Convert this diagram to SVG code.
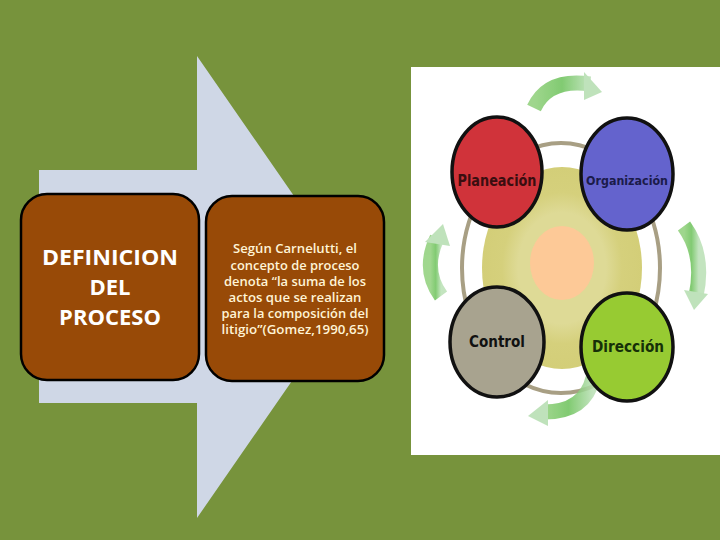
<svg xmlns="http://www.w3.org/2000/svg" width="720" height="540" viewBox="0 0 720 540">
<defs>
<style>
.box{fill:#984A07;stroke:#000;stroke-width:2.5}
.ttl{font-family:"Open Sans","Liberation Sans",sans-serif;font-weight:bold;font-size:22px;fill:#FFFFFF;text-anchor:middle}
.body{font-family:"Open Sans","Liberation Sans",sans-serif;font-weight:600;font-size:12.5px;fill:#FFF4D6;text-anchor:middle}
.circ{stroke:#111;stroke-width:3.5}
.lbl{font-family:"DejaVu Sans","Liberation Sans",sans-serif;font-weight:bold;text-anchor:middle}
.garc{fill:none;stroke-width:15;stroke-linecap:butt}
</style>
<linearGradient id="g1" x1="0" y1="0" x2="1" y2="0">
<stop offset="0" stop-color="#8FD07A"/><stop offset="0.5" stop-color="#6CC25A"/><stop offset="1" stop-color="#B9E0B4"/>
</linearGradient>
<radialGradient id="halo" cx="0.5" cy="0.5" r="0.5">
<stop offset="0.55" stop-color="#DEDA96"/><stop offset="0.75" stop-color="#D5D07C"/><stop offset="1" stop-color="#D3CE78"/>
</radialGradient>
</defs>
<rect x="0" y="0" width="720" height="540" fill="#77933C"/>

<g id="arrow">
<polygon points="39,170 197,170 197,56 357,287 197,518 197,403 39,403" fill="#CFD7E6"/>
</g>

<g id="node-definicion">
<rect class="box" x="21" y="194" width="178" height="186" rx="26" ry="26"/>
<text class="ttl" x="110" y="265" textLength="136" lengthAdjust="spacingAndGlyphs">DEFINICION</text>
<text class="ttl" x="110" y="295">DEL</text>
<text class="ttl" x="110" y="325">PROCESO</text>
</g>

<g id="node-cita">
<rect class="box" x="206" y="196" width="178" height="185" rx="26" ry="26"/>
<text class="body" x="295" y="253" textLength="124" lengthAdjust="spacingAndGlyphs">Según Carnelutti, el</text>
<text class="body" x="295" y="270" textLength="129" lengthAdjust="spacingAndGlyphs">concepto de proceso</text>
<text class="body" x="295" y="286" textLength="142" lengthAdjust="spacingAndGlyphs">denota “la suma de los</text>
<text class="body" x="295" y="302" textLength="133" lengthAdjust="spacingAndGlyphs">actos que se realizan</text>
<text class="body" x="295" y="318" textLength="147" lengthAdjust="spacingAndGlyphs">para la composición del</text>
<text class="body" x="295" y="334" textLength="147" lengthAdjust="spacingAndGlyphs">litigio”(Gomez,1990,65)</text>
</g>

<g id="cycle-image">
<rect x="411" y="67" width="309" height="388" fill="#FFFFFF"/>
<ellipse cx="561" cy="268" rx="99" ry="125" fill="none" stroke="#A89F84" stroke-width="4"/>
<ellipse cx="562" cy="268" rx="80" ry="101" fill="url(#halo)"/>
<ellipse cx="562" cy="263" rx="32" ry="37" fill="#FDC997"/>

<g id="connectors" opacity="0.85">
<path class="garc" d="M534,108 Q548,78 590,84" stroke="url(#g1)"/>
<polygon points="584,72 602,92 584,100" fill="#B5DEB0"/>
<path class="garc" d="M684,226 Q705,255 696,296" stroke="url(#g1)"/>
<polygon points="684,290 708,294 694,310" fill="#B5DEB0"/>
<path class="garc" d="M593,378 Q585,412 544,412" stroke="url(#g1)"/>
<polygon points="548,400 528,416 548,426" fill="#B5DEB0"/>
<path class="garc" d="M441,296 Q422,270 437,238" stroke="url(#g1)"/>
<polygon points="425,242 443,224 450,246" fill="#B5DEB0"/>
</g>

<g id="node-planeacion">
<ellipse class="circ" cx="497" cy="172" rx="45" ry="55" fill="#D0333A"/>
<text class="lbl" x="497" y="186" font-size="15" fill="#3A0E10" textLength="79" lengthAdjust="spacingAndGlyphs">Planeación</text>
</g>
<g id="node-organizacion">
<ellipse class="circ" cx="627" cy="174" rx="46" ry="56" fill="#6463CD"/>
<text class="lbl" x="627" y="185" font-size="12.5" fill="#1B1B4A" textLength="82" lengthAdjust="spacingAndGlyphs">Organización</text>
</g>
<g id="node-control">
<ellipse class="circ" cx="497" cy="342" rx="47" ry="55" fill="#A8A38F"/>
<text class="lbl" x="497" y="347" font-size="16" fill="#111" textLength="56" lengthAdjust="spacingAndGlyphs">Control</text>
</g>
<g id="node-direccion">
<ellipse class="circ" cx="627" cy="347" rx="46" ry="54" fill="#97CB32"/>
<text class="lbl" x="628" y="352" font-size="16" fill="#163008" textLength="72" lengthAdjust="spacingAndGlyphs">Dirección</text>
</g>
</g>
</svg>
